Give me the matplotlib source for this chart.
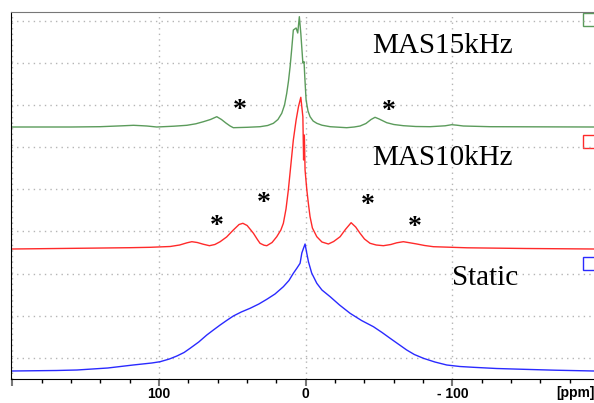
import numpy as np
import matplotlib.pyplot as plt
from matplotlib.patches import Rectangle

# chemical shift (ppm) / intensity (a.u.)
static_ppm = [200.4, 170, 156, 135, 117.7, 105, 99.3, 93, 87.9, 83, 78.9, 73, 67.5, 63,
              58.4, 54, 49.4, 44, 38, 32, 26.6, 21, 15.3, 11.5, 8.5, 6, 3.9, 2.7, 1.5,
              0.5, -0.5, -1.8, -4, -7.5, -11, -16.6, -23, -30.2, -38, -46.1, -52, -57.5,
              -63, -68.8, -74, -80.2, -88, -96.1, -105, -114.2, -130, -148.3, -170, -196.5]
static_int = [0, 0.5, 1, 3, 6, 8, 9.3, 12, 15, 18.5, 22.7, 29, 36, 41,
              46, 50.5, 55, 59, 62.7, 67, 71.7, 77, 84.3, 90.5, 97.7, 103, 107.7, 118, 123,
              127, 119, 109.3, 98, 87.7, 81, 74.3, 66, 57.7, 50.5, 44.3, 38.5, 32.7,
              27, 21, 16.5, 12.7, 9, 6, 4.5, 3.7, 2.5, 1.7, 0.8, 0]

mas10_ppm = [200.4, 150, 120, 106.1, 92.5, 86, 81, 77.7, 74, 70, 65.7, 62, 58.4, 54,
             49.4, 45.5, 42.9, 40, 37.5, 35.7, 33, 31.2, 28.5, 26.6, 23, 19.8, 17, 15.3,
             13.5, 11.9, 10.2, 8.5, 6.6, 5.0, 3.4, 2.0, 1.5, 1.0, 0.5, -0.7, -1.8, -2.9,
             -4.5, -7.5, -11, -15.4, -19, -23.4, -27, -30.9, -34, -37.0, -40, -43.8, -48,
             -52.9, -58, -62, -66.5, -71, -75.7, -81, -87.0, -110, -150, -196.5]
mas10_int = [0, 0.8, 1.3, 1.7, 2.5, 4, 6.2, 7.3, 6.5, 4.8, 3.3, 4.5, 7.3, 12,
             19, 24.5, 25.7, 23.5, 19, 15.7, 9.5, 5.7, 3.8, 3.3, 6.5, 12.3, 19, 25.7,
             40, 59, 84, 109, 129, 142.3, 151.7, 132.3, 89, 114, 79, 59, 45, 32.3,
             21, 12.3, 7, 5, 7.5, 12.3, 19.5, 26.3, 22, 15.7, 10, 5.7, 4,
             3.3, 4.5, 6.2, 7.3, 6.2, 5, 3.5, 2.3, 1.2, 0.5, 0]

mas15_ppm = [200.9, 160, 140.2, 125, 117.5, 112, 108.4, 101.6, 90, 81.1, 75, 69.8, 65,
             60.7, 57.5, 54.5, 51.6, 49.4, 40, 31.2, 26, 22.1, 19, 16.4, 14.5, 13.0, 11.8,
             10.7, 9.6, 8.5, 6.6, 5.5, 4.4, 3.4, 2.0, 1.2, 0.7, -0.2, -1.5, -2.9, -5,
             -7.5, -11, -16.6, -27.9, -33, -37.0, -41, -44.5, -47.2, -50, -55.2, -60,
             -66.5, -75, -84.7, -95, -99.5, -103, -107.4, -125.6, -196.5]
mas15_int = [0, 0, 0.3, 1.2, 1.7, 1.3, 1, 0, 0.8, 1.7, 3.2, 5.3, 7.5,
             10.3, 7.5, 4, 1, -0.7, -0.3, 0.3, 1.5, 3.7, 7.5, 13.7, 22, 33.7, 46,
             60.3, 78, 97, 99, 94, 110.3, 93.7, 64, 65.3, 50.3, 27, 16, 10.3, 6,
             3.7, 1.8, 0.3, -0.7, 0, 1, 3.5, 7.5, 9.7, 8, 4.3, 2.5,
             1.3, 0.5, 0.3, 1.2, 2.3, 1.8, 1, 0.3, 0]

# spinning sidebands marked with *
sb15_ppm = [44.8, -56.8]
sb10_ppm = [60.7, 28.9, -42.0, -74.0]

traces = [
    (mas15_ppm, mas15_int, '#5b9b5b', 252, 'MAS15kHz', -45.2, 325.7),
    (mas10_ppm, mas10_int, '#ff2a2a', 130, 'MAS10kHz', -45.4, 214),
    (static_ppm, static_int, '#2a2aff', 8, 'Static', -99.5, 94),
]

fig = plt.figure(figsize=(5.94, 4.03), dpi=100)
ax = fig.add_axes([11/594, 1 - 379/403, 1 - 11/594, (379 - 12.3)/403])

for ppm, inten, col, off, label, lx, ly in traces:
    ax.plot(ppm, np.array(inten) + off, color=col, lw=1.0)
    ax.text(lx, ly, label, family='Liberation Serif', fontsize=21,
            ha='left', va='baseline')
    ax.add_patch(Rectangle((-197.8, off + 101), 9, 13, fill=False,
                           edgecolor=col, lw=1.0))

# asterisks
for x, y in zip(sb15_ppm, [276, 274.5]):
    ax.text(x, y - 14, '*', family='Liberation Serif', fontsize=20,
            fontweight='bold', ha='center', va='baseline')
for x, y in zip(sb10_ppm, [159.7, 183, 180.7, 159]):
    ax.text(x, y - 14, '*', family='Liberation Serif', fontsize=20,
            fontweight='bold', ha='center', va='baseline')

ax.set_xlim(201, -196.5)
ax.set_ylim(0, 366.7)

ax.set_xticks([200, 100, 0, -100])
ax.set_xticklabels(['', '100', '0', '- 100'], fontweight='bold',
                   family='Liberation Sans', fontsize=10)
ax.set_xticks(np.arange(-180, 201, 20), minor=True)
ax.tick_params(axis='x', which='major', length=5, width=1.5, color='#777777', pad=1)
ax.tick_params(axis='x', which='minor', length=3, width=1, color='black')
ax.set_yticks(np.arange(21.3, 366, 42.1))
ax.set_yticklabels([])
ax.tick_params(axis='y', length=0)
ax.grid(True, which='major', color='#b5b5b5', linestyle=(0, (1, 3)), lw=1)

ax.spines['right'].set_visible(False)
ax.spines['top'].set_color('#777777')
ax.spines['left'].set_color('black')
ax.spines['bottom'].set_color('black')

fig.text(575/594, 1 - 393/403, '[ppm]', fontweight='bold', family='Liberation Sans',
         fontsize=10, ha='center', va='center')

fig.savefig('out.png', dpi=100)
